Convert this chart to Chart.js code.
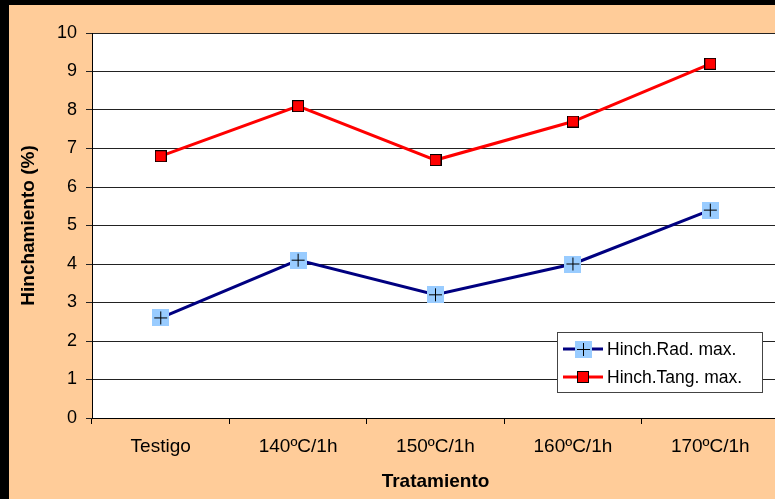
<!DOCTYPE html>
<html>
<head>
<meta charset="utf-8">
<script src="https://cdn.jsdelivr.net/npm/chart.js@4.4.1/dist/chart.umd.min.js"></script>
<style>
  html, body { margin: 0; padding: 0; background: #000; overflow: hidden; width: 775px; height: 499px; }
  #wrap { position: absolute; left: 9px; top: 5px; width: 781px; height: 494px; background: #FFCC99; }
</style>
</head>
<body>
<div id="wrap"><canvas id="chart"></canvas></div>
<script>
// data
const categories = ['Testigo', '140ºC/1h', '150ºC/1h', '160ºC/1h', '170ºC/1h'];
const radValues = [2.6, 4.1, 3.2, 4.0, 5.4];
const tangValues = [6.8, 8.1, 6.7, 7.7, 9.2];
const seriesNames = ['Hinch.Rad. max.', 'Hinch.Tang. max.'];
const yTicks = [0, 1, 2, 3, 4, 5, 6, 7, 8, 9, 10];

// marker images
function makeRadMarker() {
  var c = document.createElement('canvas');
  c.width = 17; c.height = 17;
  var g = c.getContext('2d');
  g.fillStyle = '#99CCFF';
  g.fillRect(0, 0, 17, 17);
  g.strokeStyle = '#000';
  g.lineWidth = 1;
  g.beginPath();
  g.moveTo(8.5, 2); g.lineTo(8.5, 15);
  g.moveTo(2, 8.5); g.lineTo(15, 8.5);
  g.stroke();
  return c;
}
function makeTangMarker() {
  var c = document.createElement('canvas');
  c.width = 12; c.height = 12;
  var g = c.getContext('2d');
  g.fillStyle = '#FF0000';
  g.fillRect(0, 0, 12, 12);
  g.strokeStyle = '#000';
  g.lineWidth = 1;
  g.strokeRect(0.5, 0.5, 11, 11);
  return c;
}
const radMarker = makeRadMarker();
const tangMarker = makeTangMarker();

// white plot area
const plotBg = {
  id: 'plotBg',
  beforeDraw(chart) {
    const a = chart.chartArea, ctx = chart.ctx;
    ctx.save();
    ctx.fillStyle = '#FFFFFF';
    ctx.fillRect(a.left, a.top, a.right - a.left, a.bottom - a.top);
    ctx.restore();
  }
};

// legend box inside the plot, like the original
const boxLegend = {
  id: 'boxLegend',
  afterDraw(chart) {
    const ctx = chart.ctx;
    const x = 548, y = 327, w = 205, h = 60;
    ctx.save();
    ctx.fillStyle = '#FFFFFF';
    ctx.fillRect(x, y, w, h);
    ctx.strokeStyle = '#444';
    ctx.lineWidth = 1;
    ctx.strokeRect(x + 0.5, y + 0.5, w, h);
    ctx.font = '17.5px "Liberation Sans", Arial, sans-serif';
    ctx.textBaseline = 'middle';
    chart.data.datasets.forEach(function (ds, i) {
      const cy = y + 17 + i * 28;
      ctx.strokeStyle = ds.borderColor;
      ctx.lineWidth = 3;
      ctx.beginPath();
      ctx.moveTo(x + 6, cy);
      ctx.lineTo(x + 46, cy);
      ctx.stroke();
      const img = ds.pointStyle;
      ctx.drawImage(img, Math.round(x + 26 - img.width / 2), Math.round(cy - img.height / 2));
      ctx.fillStyle = '#000';
      ctx.fillText(ds.label, x + 50, cy + 1);
    });
    ctx.restore();
  }
};

new Chart(document.getElementById('chart'), {
  type: 'line',
  data: {
    labels: categories,
    datasets: [{
      label: seriesNames[0],
      data: radValues,
      borderColor: '#000080',
      borderWidth: 3,
      pointStyle: radMarker,
      pointRadius: 8,
      tension: 0
    }, {
      label: seriesNames[1],
      data: tangValues,
      borderColor: '#FF0000',
      borderWidth: 3,
      pointStyle: tangMarker,
      pointRadius: 6,
      tension: 0
    }]
  },
  options: {
    responsive: true,
    maintainAspectRatio: false,
    animation: false,
    layout: { padding: { left: 0, top: 28, right: 1, bottom: 0 } },
    plugins: {
      legend: { display: false },
      tooltip: { enabled: false }
    },
    scales: {
      x: {
        offset: true,
        afterFit: function (scale) { scale.height = 81; },
        border: { color: '#000', width: 1 },
        grid: { offset: true, drawOnChartArea: false, drawTicks: true, tickLength: 6, color: '#000' },
        ticks: { color: '#000', padding: 11, maxRotation: 0, font: { family: '"Liberation Sans", Arial', size: 19 } },
        title: {
          display: true,
          text: 'Tratamiento',
          color: '#000',
          padding: { top: 0, bottom: 6 },
          font: { family: '"Liberation Sans", Arial', size: 19, weight: 'bold' }
        }
      },
      y: {
        min: 0,
        max: 10,
        afterFit: function (scale) { scale.width = 83; },
        afterBuildTicks: function (scale) { scale.ticks = yTicks.map(function (v) { return { value: v }; }); },
        border: { color: '#000', width: 1 },
        grid: { color: '#222', lineWidth: 1, tickLength: 6 },
        ticks: { color: '#000', padding: 9, font: { family: '"Liberation Sans", Arial', size: 18 } },
        title: {
          display: true,
          text: 'Hinchamiento (%)',
          color: '#000',
          padding: { top: 8, bottom: 0 },
          font: { family: '"Liberation Sans", Arial', size: 19, weight: 'bold' }
        }
      }
    }
  },
  plugins: [plotBg, boxLegend]
});
</script>
</body>
</html>
